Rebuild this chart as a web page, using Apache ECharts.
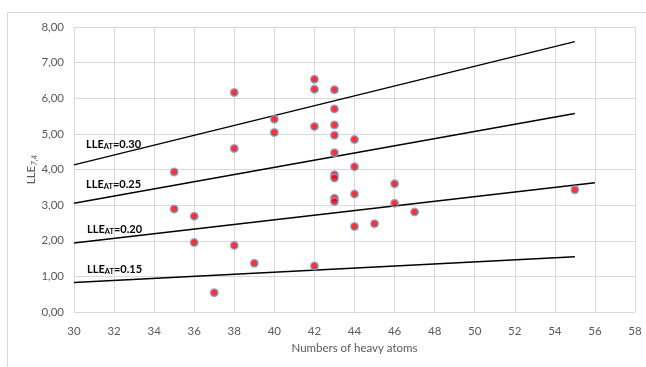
<!DOCTYPE html>
<html>
<head>
<meta charset="utf-8">
<script src="https://cdn.jsdelivr.net/npm/echarts@6/dist/echarts.min.js"></script>
<style>
  html, body { margin: 0; padding: 0; background: #fff; }
  #chart { width: 646px; height: 367px; }
</style>
</head>
<body>
<div id="chart"></div>
<script>
// compounds: heavy atoms vs LLE(7.4)
const heavyAtoms = [35, 35, 36, 36, 37, 38, 38, 38, 39, 40, 40, 42, 42, 42, 42,
  43, 43, 43, 43, 43, 43, 43, 43, 43, 44, 44, 44, 44, 45, 46, 46, 47, 55];
const lleValues = [3.93, 2.89, 2.69, 1.95, 0.54, 6.16, 4.59, 1.87, 1.37, 5.41, 5.04, 6.53, 6.25, 5.21, 1.29,
  6.24, 5.70, 5.25, 4.96, 4.47, 3.85, 3.76, 3.19, 3.10, 4.84, 4.08, 3.31, 2.40, 2.48, 3.60, 3.05, 2.81, 3.43];

// iso-LLE_AT lines, read at their two ends
const isoNames = ['0.30', '0.25', '0.20', '0.15'];
const isoX = [[30, 55], [30, 55], [30, 56], [30, 55]];
const isoY = [[4.13, 7.59], [3.05, 5.57], [1.94, 3.63], [0.83, 1.55]];
const isoLabelPos = [[86, 147], [86, 187], [87, 232], [87, 272]];

const font = 'Lato, "Open Sans", sans-serif';
const chart = echarts.init(document.getElementById('chart'));

const series = [{
  type: 'scatter',
  data: heavyAtoms.map((x, i) => [x, lleValues[i]]),
  symbolSize: 7.5,
  itemStyle: { color: '#ff0000', borderColor: '#6fa8dc', borderWidth: 1.5 },
  z: 5
}];
isoNames.forEach((n, k) => {
  series.push({
    type: 'line',
    data: isoX[k].map((x, j) => [x, isoY[k][j]]),
    showSymbol: false,
    lineStyle: { color: '#000', width: 1.5 },
    z: 3
  });
});

const option = {
  animation: false,
  grid: { left: 74, right: 11, top: 27, bottom: 55 },
  xAxis: {
    type: 'value', min: 30, max: 58, interval: 2,
    name: 'Numbers of heavy atoms', nameLocation: 'middle', nameGap: 27,
    nameTextStyle: { color: '#595959', fontSize: 11.5, fontFamily: font },
    axisLine: { lineStyle: { color: '#d9d9d9' } },
    axisTick: { show: false },
    axisLabel: { color: '#595959', fontSize: 11.5, fontFamily: font, margin: 13 },
    splitLine: { lineStyle: { color: '#d9d9d9', width: 1 } }
  },
  yAxis: {
    type: 'value', min: 0, max: 8, interval: 1,
    name: '{a|LLE}{b|7,4}', nameLocation: 'middle', nameGap: 36, nameRotate: 90,
    nameMoveOverlap: false,
    nameTextStyle: {
      color: '#595959', fontFamily: font,
      rich: {
        a: { fontSize: 11.5, color: '#595959', fontFamily: font },
        b: { fontSize: 8, color: '#595959', fontStyle: 'italic', fontFamily: font, verticalAlign: 'bottom', padding: [5, 0, 0, 0] }
      }
    },
    axisLine: { show: false },
    axisTick: { show: false },
    axisLabel: {
      color: '#595959', fontSize: 11.5, fontFamily: font, margin: 10,
      formatter: (v) => v.toFixed(2).replace('.', ',')
    },
    splitLine: { lineStyle: { color: '#d9d9d9', width: 1 } }
  },
  graphic: [{
    type: 'rect', shape: { x: 7.5, y: 12.5, width: 700, height: 400 },
    style: { fill: 'none', stroke: '#d9d9d9', lineWidth: 1 }, z: -1
  }].concat(isoNames.map((n, k) => ({
    type: 'text', left: isoLabelPos[k][0], top: isoLabelPos[k][1] - 8,
    style: {
      text: '{m|LLE}{s|AT}{m|=' + n + '}',
      rich: {
        m: { fontSize: 11, fontWeight: 'bold', fill: '#000', fontFamily: font },
        s: { fontSize: 7.5, fontWeight: 'bold', fill: '#000', fontFamily: font, verticalAlign: 'bottom', padding: [4, 0, 0, 0] }
      }
    },
    z: 10
  }))),
  series: series
};
chart.setOption(option);
</script>
</body>
</html>
